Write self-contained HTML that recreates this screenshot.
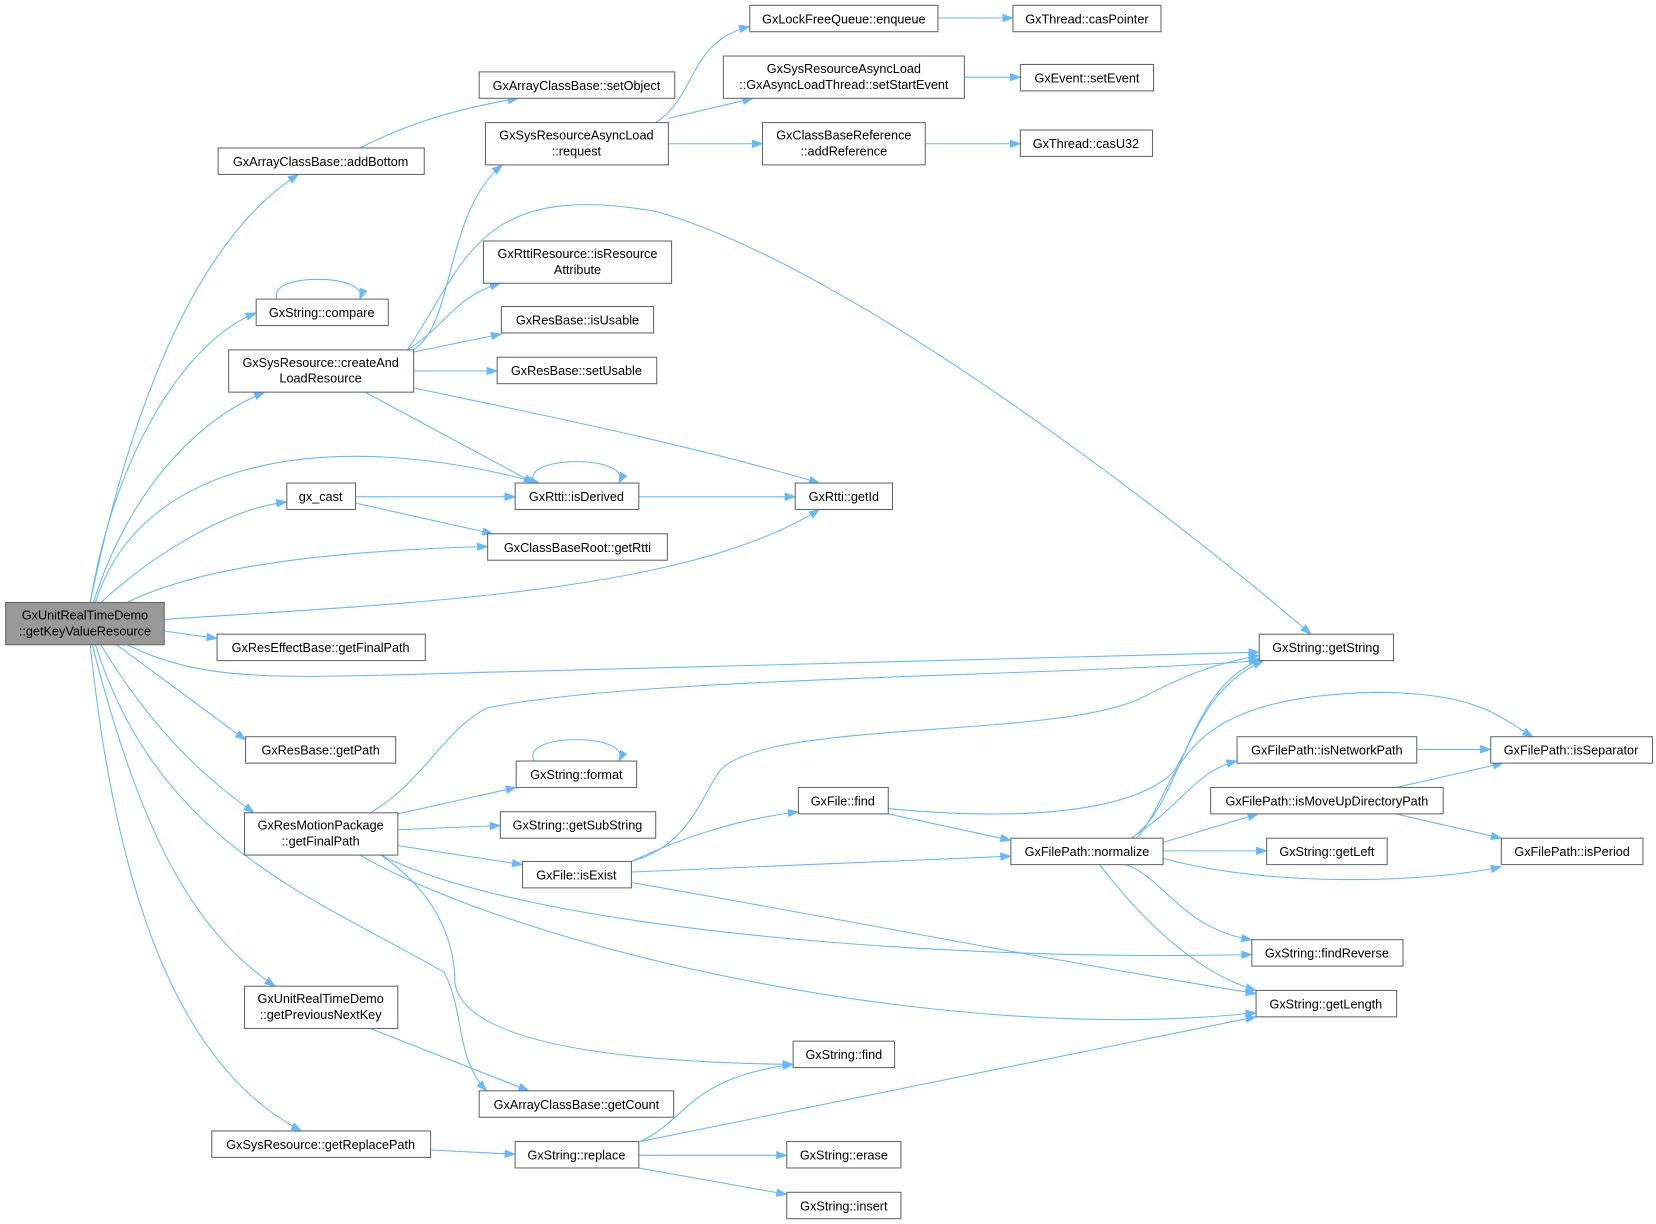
<!DOCTYPE html>
<html><head><meta charset="utf-8"><style>html,body{margin:0;padding:0;background:#fff}svg{display:block}</style></head>
<body>
<svg width="1656" height="1224" viewBox="0 0 1566 1158" xmlns="http://www.w3.org/2000/svg" font-family="Liberation Sans, Arial, sans-serif" font-size="12">
<defs><marker id="a" markerWidth="11" markerHeight="8" refX="10" refY="4" orient="auto" markerUnits="userSpaceOnUse"><path d="M0,0 L11,4 L0,8 z" fill="#63b8ff"/></marker></defs>
<g fill="none" stroke="#63b8ff" stroke-width="1" marker-end="url(#a)">
<path d="M85,570 C120,400 180,230 282,165"/>
<path d="M85,570 C110,420 180,320 242,296"/>
<path d="M88,570 C120,470 180,400 250,371"/>
<path d="M90,570 C130,440 300,400 510,457"/>
<path d="M95,570 C150,520 220,480 271,475"/>
<path d="M120,570 C200,530 350,520 461,517"/>
<path d="M155,586 C400,570 650,560 775,482"/>
<path d="M155,597 L205,604"/>
<path d="M120,610 C200,650 280,640 500,635 C800,628 1000,622 1191,617"/>
<path d="M110,610 L232,700"/>
<path d="M95,610 C150,700 200,740 240,769"/>
<path d="M90,610 C150,800 300,850 420,920 C440,960 430,1000 460,1032"/>
<path d="M87,610 C130,780 180,880 260,933"/>
<path d="M85,610 C110,850 170,1010 285,1070"/>
<path d="M340,140 C380,120 420,105 490,93"/>
<path d="M390,331 C430,310 420,200 475,156"/>
<path d="M385,331 C440,250 450,170 620,200 C800,250 1100,480 1240,600"/>
<path d="M385,331 C420,310 430,280 473,268"/>
<path d="M391,333 L474,316"/>
<path d="M391,351 L470,351"/>
<path d="M345,371 L505,457"/>
<path d="M391,367 C500,390 650,420 775,457"/>
<path d="M262,283 C250,258 350,258 340,283"/>
<path d="M336,470 L487,470"/>
<path d="M336,476 L466,505"/>
<path d="M505,457 C490,430 600,430 585,457"/>
<path d="M604,470 L752,470"/>
<path d="M620,116 C660,90 650,40 709,25"/>
<path d="M632,112 L712,93"/>
<path d="M632,136 L721,136"/>
<path d="M887,17 L958,17"/>
<path d="M912,73 L965,73"/>
<path d="M875,136 L965,136"/>
<path d="M350,769 C400,740 420,690 460,670 C600,640 1000,640 1191,625"/>
<path d="M376,770 L488,745"/>
<path d="M376,785 L473,781"/>
<path d="M376,800 L494,818"/>
<path d="M360,809 C500,880 900,910 1184,903"/>
<path d="M340,809 C500,900 900,990 1188,958"/>
<path d="M360,809 C420,850 430,900 430,930 C440,990 600,1005 750,1007"/>
<path d="M505,720 C490,693 600,693 585,720"/>
<path d="M597,815 C650,790 700,775 755,768"/>
<path d="M597,815 C650,800 660,760 680,730 C720,680 1000,700 1080,660 C1120,640 1140,630 1191,620"/>
<path d="M597,825 L956,810"/>
<path d="M597,835 C800,870 1000,910 1188,940"/>
<path d="M840,765 C1000,780 1080,760 1110,730 C1130,700 1140,650 1195,625"/>
<path d="M840,770 L956,795"/>
<path d="M1070,793 C1120,760 1120,650 1195,623"/>
<path d="M1075,793 C1120,740 1100,660 1300,655 C1400,655 1420,680 1450,697"/>
<path d="M1070,793 C1120,760 1130,730 1170,720"/>
<path d="M1100,797 L1190,770"/>
<path d="M1100,805 L1198,805"/>
<path d="M1100,812 C1200,840 1350,835 1420,820"/>
<path d="M1065,818 C1100,830 1120,880 1184,889"/>
<path d="M1040,818 C1080,870 1130,920 1188,937"/>
<path d="M1340,709 L1410,709"/>
<path d="M1320,745 L1422,722"/>
<path d="M1320,770 L1420,793"/>
<path d="M350,973 L500,1032"/>
<path d="M407,1088 L487,1092"/>
<path d="M605,1080 C650,1060 650,1020 750,1007"/>
<path d="M605,1080 L1188,962"/>
<path d="M604,1093 L744,1093"/>
<path d="M604,1105 L744,1130"/>
</g>
<g stroke="#666" stroke-width="1" fill="#fff">
<rect x="5" y="570" width="150" height="40" fill="#999"/>
<rect x="206" y="140" width="195" height="25"/>
<rect x="453" y="68" width="185" height="25"/>
<rect x="242" y="283" width="125" height="25"/>
<rect x="216" y="331" width="175" height="40"/>
<rect x="271" y="457" width="65" height="25"/>
<rect x="205" y="600" width="197" height="25"/>
<rect x="232" y="697" width="142" height="25"/>
<rect x="231" y="769" width="145" height="40"/>
<rect x="231" y="933" width="145" height="40"/>
<rect x="200" y="1070" width="207" height="25"/>
<rect x="709" y="5" width="178" height="25"/>
<rect x="958" y="5" width="140" height="25"/>
<rect x="684" y="53" width="228" height="40"/>
<rect x="965" y="61" width="126" height="25"/>
<rect x="459" y="116" width="173" height="40"/>
<rect x="721" y="116" width="154" height="40"/>
<rect x="965" y="123" width="125" height="25"/>
<rect x="457" y="228" width="178" height="40"/>
<rect x="474" y="290" width="144" height="25"/>
<rect x="470" y="338" width="151" height="25"/>
<rect x="487" y="457" width="117" height="25"/>
<rect x="752" y="457" width="92" height="25"/>
<rect x="461" y="505" width="170" height="25"/>
<rect x="1191" y="600" width="127" height="25"/>
<rect x="488" y="720" width="114" height="25"/>
<rect x="473" y="768" width="147" height="25"/>
<rect x="494" y="815" width="103" height="25"/>
<rect x="755" y="745" width="85" height="25"/>
<rect x="956" y="793" width="144" height="25"/>
<rect x="1170" y="697" width="170" height="25"/>
<rect x="1145" y="745" width="220" height="25"/>
<rect x="1410" y="697" width="153" height="25"/>
<rect x="1198" y="793" width="114" height="25"/>
<rect x="1420" y="793" width="134" height="25"/>
<rect x="1184" y="889" width="143" height="25"/>
<rect x="1188" y="937" width="133" height="25"/>
<rect x="750" y="985" width="96" height="25"/>
<rect x="453" y="1032" width="184" height="25"/>
<rect x="487" y="1080" width="117" height="25"/>
<rect x="744" y="1080" width="108" height="25"/>
<rect x="744" y="1128" width="108" height="25"/>
</g>
<g fill="#000" text-anchor="middle">
<text x="80" y="586">GxUnitRealTimeDemo</text><text x="80" y="601">::getKeyValueResource</text>
<text x="303" y="157">GxArrayClassBase::addBottom</text>
<text x="545" y="85">GxArrayClassBase::setObject</text>
<text x="304" y="300">GxString::compare</text>
<text x="303" y="347">GxSysResource::createAnd</text><text x="303" y="362">LoadResource</text>
<text x="303" y="474">gx_cast</text>
<text x="303" y="617">GxResEffectBase::getFinalPath</text>
<text x="303" y="714">GxResBase::getPath</text>
<text x="303" y="785">GxResMotionPackage</text><text x="303" y="800">::getFinalPath</text>
<text x="303" y="949">GxUnitRealTimeDemo</text><text x="303" y="964">::getPreviousNextKey</text>
<text x="303" y="1087">GxSysResource::getReplacePath</text>
<text x="798" y="22">GxLockFreeQueue::enqueue</text>
<text x="1028" y="22">GxThread::casPointer</text>
<text x="798" y="69">GxSysResourceAsyncLoad</text><text x="798" y="84">::GxAsyncLoadThread::setStartEvent</text>
<text x="1028" y="78">GxEvent::setEvent</text>
<text x="545" y="132">GxSysResourceAsyncLoad</text><text x="545" y="147">::request</text>
<text x="798" y="132">GxClassBaseReference</text><text x="798" y="147">::addReference</text>
<text x="1027" y="140">GxThread::casU32</text>
<text x="546" y="244">GxRttiResource::isResource</text><text x="546" y="259">Attribute</text>
<text x="546" y="307">GxResBase::isUsable</text>
<text x="545" y="355">GxResBase::setUsable</text>
<text x="545" y="474">GxRtti::isDerived</text>
<text x="798" y="474">GxRtti::getId</text>
<text x="546" y="522">GxClassBaseRoot::getRtti</text>
<text x="1254" y="617">GxString::getString</text>
<text x="545" y="737">GxString::format</text>
<text x="546" y="785">GxString::getSubString</text>
<text x="545" y="832">GxFile::isExist</text>
<text x="797" y="762">GxFile::find</text>
<text x="1028" y="810">GxFilePath::normalize</text>
<text x="1255" y="714">GxFilePath::isNetworkPath</text>
<text x="1255" y="762">GxFilePath::isMoveUpDirectoryPath</text>
<text x="1486" y="714">GxFilePath::isSeparator</text>
<text x="1255" y="810">GxString::getLeft</text>
<text x="1487" y="810">GxFilePath::isPeriod</text>
<text x="1255" y="906">GxString::findReverse</text>
<text x="1254" y="954">GxString::getLength</text>
<text x="798" y="1002">GxString::find</text>
<text x="545" y="1049">GxArrayClassBase::getCount</text>
<text x="545" y="1097">GxString::replace</text>
<text x="798" y="1097">GxString::erase</text>
<text x="798" y="1145">GxString::insert</text>
</g>
</svg>
</body></html>
